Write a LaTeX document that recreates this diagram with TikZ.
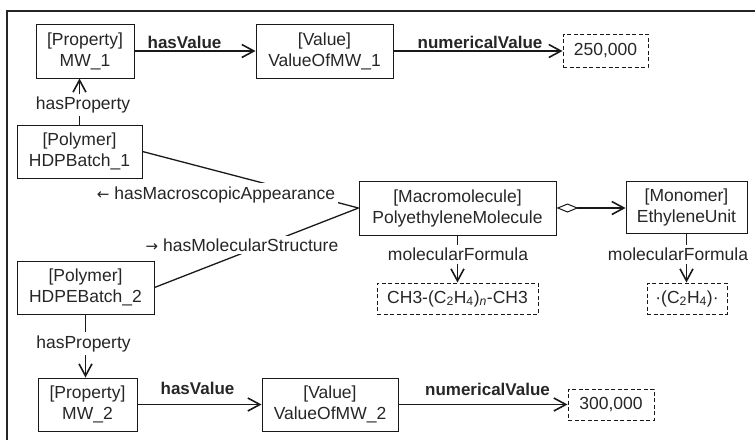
\documentclass[tikz,border=0pt]{standalone}
\usepackage{fontspec}
\setmainfont{Liberation Sans}
\newfontfamily\arrowfont{DejaVu Sans}
\usetikzlibrary{arrows.meta}
\begin{document}
\begin{tikzpicture}[x=1pt,y=-1pt,
  every node/.style={font=\fontsize{17.5}{21}\selectfont, text=black!85},
  box/.style={draw=black!90, line width=1pt, align=center, inner sep=0pt},
  dbox/.style={draw=black!90, line width=1pt, dash pattern=on 4pt off 2.5pt, inner sep=0pt},
  lbl/.style={fill=white, inner sep=3pt},
  blbl/.style={font=\fontsize{17}{21}\selectfont\bfseries, inner sep=1pt},
  conn/.style={draw=black!90, line width=1.6pt},
  thin/.style={draw=black!90, line width=1.3pt},
  arr/.style={conn, -{Straight Barb[length=12pt,width=13pt]}},
]
\useasboundingbox (0,0) rectangle (755,440);
\draw[line width=1.5pt, black!85] (7,440) -- (7,11) -- (755,11);

% nodes
\node[box, minimum width=98pt, minimum height=54pt] (mw1) at (85,51) {[Property]\\MW\_1};
\node[box, minimum width=137pt, minimum height=54pt] (v1) at (324.5,51) {[Value]\\ValueOfMW\_1};
\node[dbox, minimum width=85pt, minimum height=33pt] (n1) at (605.5,50.5) {250,000};
\node[box, minimum width=125pt, minimum height=53pt] (p1) at (79.5,151.5) {[Polymer]\\HDPBatch\_1};
\node[box, minimum width=197pt, minimum height=54pt] (macro) at (457.5,208) {[Macromolecule]\\PolyethyleneMolecule};
\node[box, minimum width=121pt, minimum height=52pt] (mono) at (686.5,207.5) {[Monomer]\\EthyleneUnit};
\node[dbox, minimum width=161pt, minimum height=31pt] (f1) at (457.5,298.5) {CH3-(C\textsubscript{2}H\textsubscript{4})\textsubscript{\itshape n}-CH3};
\node[dbox, minimum width=80pt, minimum height=31pt] (f2) at (687,298.5) {·(C\textsubscript{2}H\textsubscript{4})·};
\node[box, minimum width=137pt, minimum height=53pt] (p2) at (85.5,287.5) {[Polymer]\\HDPEBatch\_2};
\node[box, minimum width=99pt, minimum height=53pt] (mw2) at (87.5,404.5) {[Property]\\MW\_2};
\node[box, minimum width=136pt, minimum height=53pt] (v2) at (330,404.5) {[Value]\\ValueOfMW\_2};
\node[dbox, minimum width=86pt, minimum height=31pt] (n2) at (611,404.5) {300,000};

% connectors
\draw[arr] (mw1.east) -- (v1.west);
\draw[arr] (v1.east) -- (v1.east -| n1.west);
\draw[arr] (p1.north) -- (p1.north |- mw1.south);
\draw[thin] (p1.east) -- (macro.west);
\draw[thin] (p2.east) -- (macro.west);
\draw[conn, {Diamond[open,length=22pt,width=9pt,line width=1pt]}-{Straight Barb[length=12pt,width=13pt]}] (macro.east) -- (macro.east -| mono.west);
\draw[arr] (macro.south) -- (f1.north);
\draw[arr] (mono.south) -- (mono.south |- f2.north);
\draw[arr] (p2.south) -- (p2.south |- mw2.north);
\draw[arr] (mw2.east) -- (v2.west);
\draw[arr] (v2.east) -- (v2.east -| n2.west);

% labels
\node[blbl] (hv1) at (184.5,42) {hasValue};
\node[blbl] (nv1) at (480,42.5) {numericalValue};
\node[lbl] (hp1) at (83,105) {hasProperty};
\node[lbl] (ma) at (216,194.5) {{\arrowfont\fontsize{15}{21}\selectfont ←} hasMacroscopicAppearance};
\node[lbl] (ms) at (242,245) {{\arrowfont\fontsize{15}{21}\selectfont →} hasMolecularStructure};
\node[lbl] (mf1) at (458,254.5) {molecularFormula};
\node[lbl] (mf2) at (678,254.5) {molecularFormula};
\node[lbl] (hp2) at (83.5,343.5) {hasProperty};
\node[blbl] (hv2) at (197.5,388) {hasValue};
\node[blbl] (nv2) at (487.5,389) {numericalValue};
\end{tikzpicture}
\end{document}
